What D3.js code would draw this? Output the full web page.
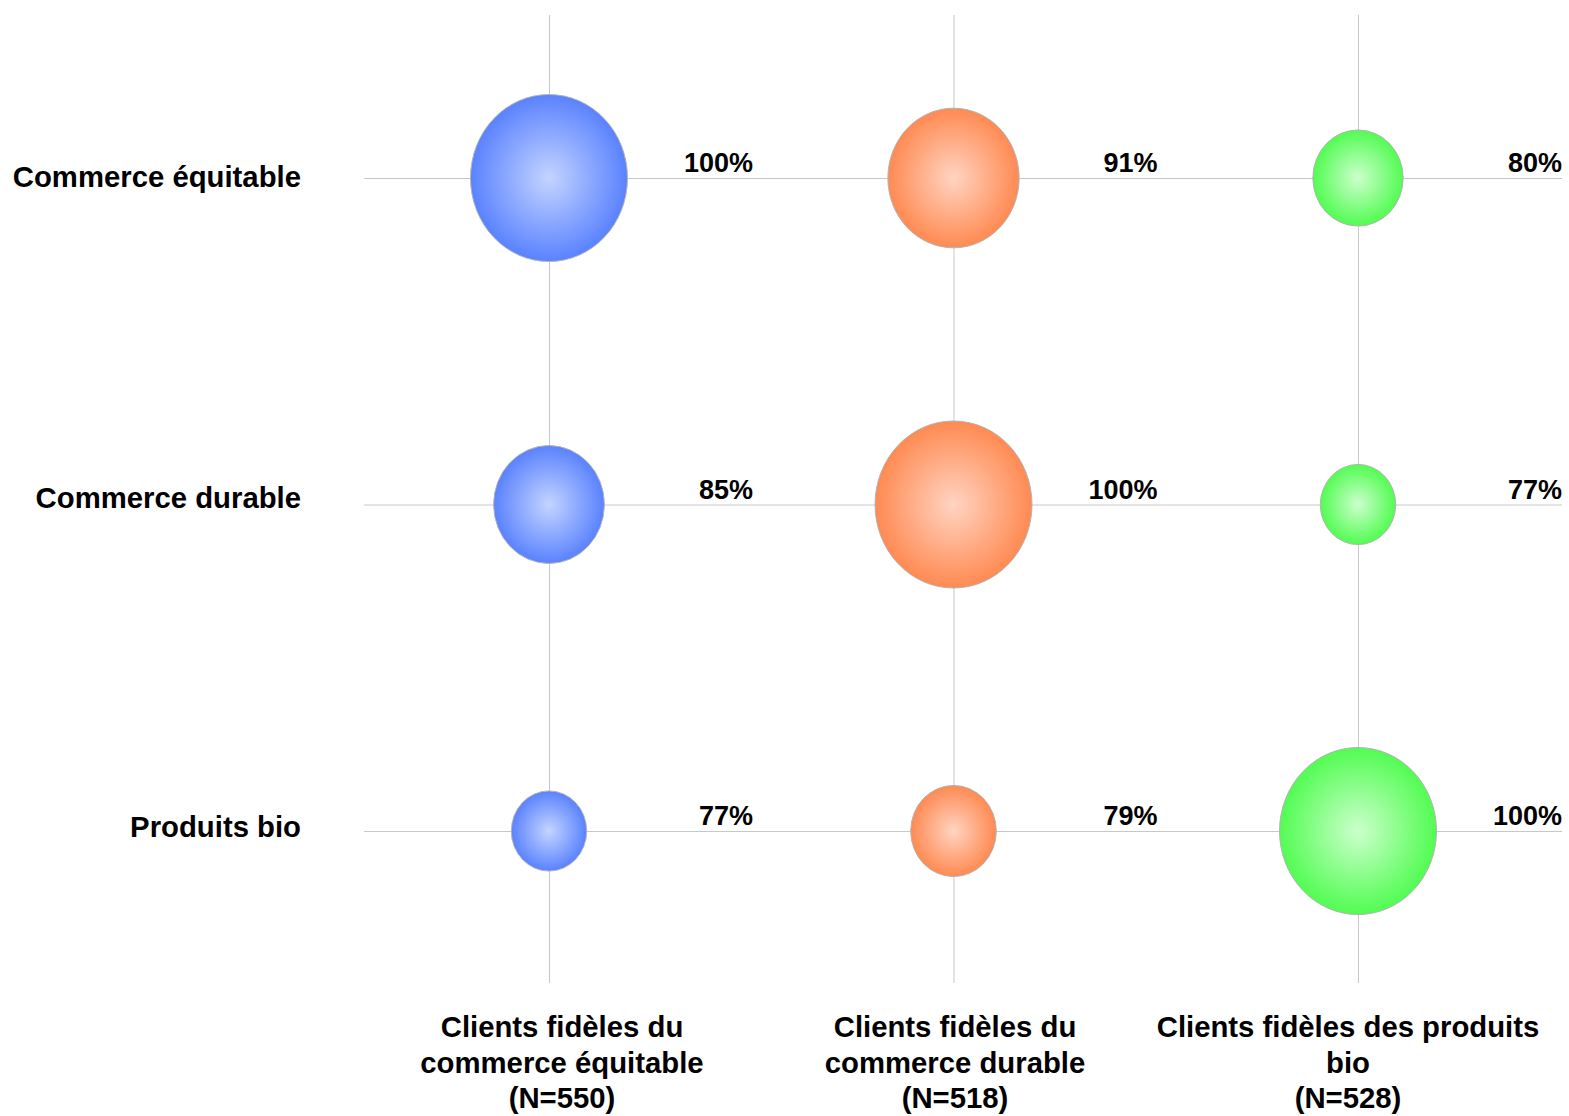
<!DOCTYPE html>
<html>
<head>
    <title></title>
    <meta charset="utf-8">
    <style>
        body { margin: 0; background: #fff; }
        text { font-family: 'Liberation Sans', Arial, sans-serif; font-weight: bold; fill: #000; }
    </style>
</head>
<body>
<script src="https://cdn.jsdelivr.net/npm/d3@7"></script>
<script>
    var rows = ['Commerce équitable', 'Commerce durable', 'Produits bio'];
    var columns = [
        ['Clients fidèles du', 'commerce équitable', '(N=550)'],
        ['Clients fidèles du', 'commerce durable', '(N=518)'],
        ['Clients fidèles des produits', 'bio', '(N=528)']
    ];
    // percent per column, one value per row
    var values = [
        [100, 85, 77],
        [91, 100, 79],
        [80, 77, 100]
    ];
    var colors = [
        ['#c4d4ff', '#5a82ff'],
        ['#ffd4c2', '#ff8a52'],
        ['#ccffcc', '#52fc52']
    ];

    var svg = d3.select('body').append('svg')
        .attr('width', 1569)
        .attr('height', 1116);

    var x = d3.scalePoint().domain(d3.range(3)).range([549, 1358]);
    var y = d3.scalePoint().domain(d3.range(3)).range([178, 831]);
    var xLabel = d3.scalePoint().domain(d3.range(3)).range([562, 1348]);
    var yLabel = d3.scaleOrdinal().domain(d3.range(3)).range([187, 508, 837]);
    var r = d3.scaleRadial().domain([70.1, 100]).range([0, 78.5]);

    var defs = svg.append('defs');
    colors.forEach(function (c, i) {
        var g = defs.append('radialGradient').attr('id', 'grad' + i);
        g.append('stop').attr('offset', '0%').attr('stop-color', c[0]);
        g.append('stop').attr('offset', '100%').attr('stop-color', c[1]);
    });

    // grid
    svg.append('g').selectAll('line').data(d3.range(3)).enter().append('line')
        .attr('x1', 364).attr('x2', 1562)
        .attr('y1', function (d) { return y(d) + 0.5; })
        .attr('y2', function (d) { return y(d) + 0.5; })
        .style('stroke', '#c8c8c8').style('stroke-width', 1);
    svg.append('g').selectAll('line').data(d3.range(3)).enter().append('line')
        .attr('y1', 15).attr('y2', 983)
        .attr('x1', function (d) { return x(d) + 0.5; })
        .attr('x2', function (d) { return x(d) + 0.5; })
        .style('stroke', '#c8c8c8').style('stroke-width', 1);

    var cells = [];
    values.forEach(function (col, ci) {
        col.forEach(function (v, ri) { cells.push({ c: ci, r: ri, v: v }); });
    });

    svg.append('g').selectAll('ellipse').data(cells).enter().append('ellipse')
        .attr('cx', function (d) { return x(d.c); })
        .attr('cy', function (d) { return y(d.r); })
        .attr('rx', function (d) { return r(d.v); })
        .attr('ry', function (d) { return r(d.v) * 1.064; })
        .style('fill', function (d) { return 'url(#grad' + d.c + ')'; })
        .style('stroke', '#b4b4b4')
        .style('stroke-width', 1);

    svg.append('g').selectAll('text').data(cells).enter().append('text')
        .attr('x', function (d) { return x(d.c) + 204; })
        .attr('y', function (d) { return y(d.r) - 6; })
        .attr('text-anchor', 'end')
        .style('font-size', '27px')
        .text(function (d) { return d.v + '%'; });

    svg.append('g').selectAll('text').data(rows).enter().append('text')
        .attr('x', 301)
        .attr('y', function (d, i) { return yLabel(i); })
        .attr('text-anchor', 'end')
        .style('font-size', '29.3px')
        .text(function (d) { return d; });

    var colLabels = svg.append('g').selectAll('text').data(columns).enter().append('text')
        .attr('text-anchor', 'middle')
        .style('font-size', '29.3px');
    colLabels.selectAll('tspan').data(function (d, i) {
        return d.map(function (t) { return { t: t, i: i }; });
    }).enter().append('tspan')
        .attr('x', function (d) { return xLabel(d.i); })
        .attr('y', function (d, j) { return 1037 + j * 35.5; })
        .text(function (d) { return d.t; });
</script>
</body>
</html>
